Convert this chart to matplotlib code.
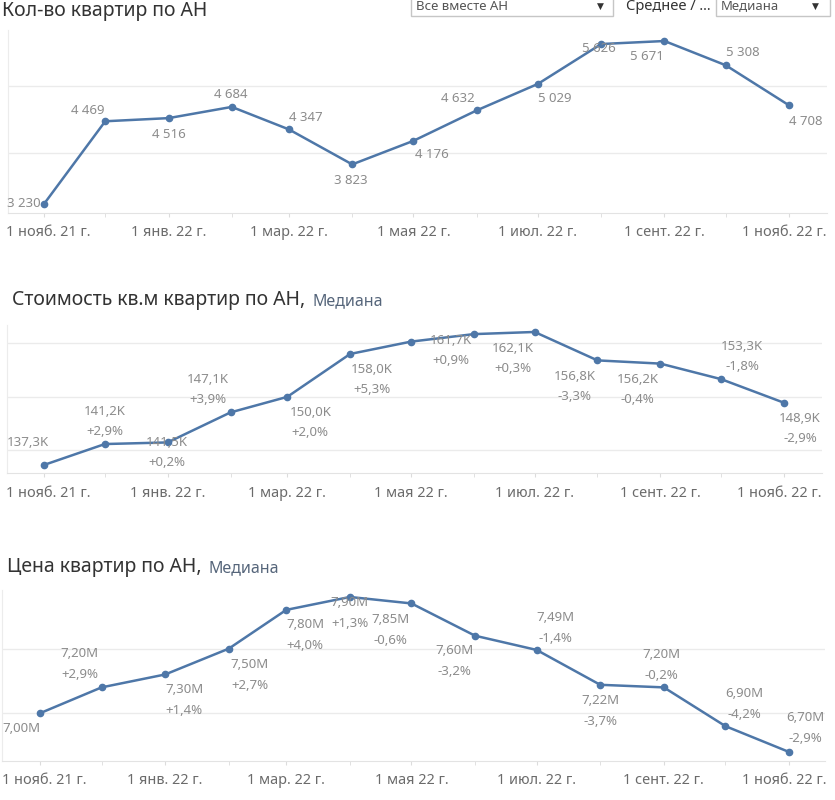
import matplotlib
matplotlib.use('Agg')

import matplotlib.pyplot as plt
import matplotlib.dates as mdates
from matplotlib.patches import Rectangle
from matplotlib.transforms import ScaledTranslation
from datetime import datetime

plt.rcParams['font.family'] = ['Noto Sans', 'DejaVu Sans']

# ==========================================
# DATA
# ==========================================
months = ['2021-11-01', '2021-12-01', '2022-01-01', '2022-02-01', '2022-03-01',
          '2022-04-01', '2022-05-01', '2022-06-01', '2022-07-01', '2022-08-01',
          '2022-09-01', '2022-10-01', '2022-11-01']
dates = [datetime.strptime(m, '%Y-%m-%d') for m in months]

kol_vo = [3230, 4469, 4516, 4684, 4347, 3823, 4176, 4632, 5029, 5626, 5671, 5308, 4708]

kvm_price = [137.3, 141.2, 141.5, 147.1, 150.0, 158.0, 160.3, 161.7, 162.1, 156.8, 156.2, 153.3, 148.9]
kvm_pct = [None, 2.9, 0.2, 3.9, 2.0, 5.3, 1.5, 0.9, 0.3, -3.3, -0.4, -1.8, -2.9]

flat_price = [7.00, 7.20, 7.30, 7.50, 7.80, 7.90, 7.85, 7.60, 7.49, 7.22, 7.20, 6.90, 6.70]
flat_pct = [None, 2.9, 1.4, 2.7, 4.0, 1.3, -0.6, -3.2, -1.4, -3.7, -0.2, -4.2, -2.9]

tick_months = ['2021-11-01', '2022-01-01', '2022-03-01', '2022-05-01',
               '2022-07-01', '2022-09-01', '2022-11-01']
tick_labels = ['1 нояб. 21 г.', '1 янв. 22 г.', '1 мар. 22 г.', '1 мая 22 г.',
               '1 июл. 22 г.', '1 сент. 22 г.', '1 нояб. 22 г.']

# ==========================================
# LAYOUT (pixels)
# ==========================================
W, H = 835, 800
LINE = '#4e77a8'
LABEL = '#8c8c8c'
GRID = '#ebebeb'

# label offsets in pixels (dx, dy up); None = hidden
off_top = [(-20, 0), (-17, 11), (0, -16), (-1, 12), (17, 12), (-1, -16), (18, -14),
           (-19, 12), (17, -15), (-2, -4), (-18, -15), (17, 13), (17, -16)]
off_mid = [(-16, 22), (0, 33), (-1, 0), (-23, 33), (23, -16), (22, -16), None,
           (-23, -6), (-22, -17), (-23, -16), (-23, -16), (21, 33), (16, -16)]
off_bot = [(-19, -15), (-22, 34), (19, -15), (21, -16), (19, -15), (0, -6), (-21, -16),
           (-21, -15), (19, 32), (0, -16), (-2, 33), (19, 33), (16, 34)]

fig = plt.figure(figsize=(W / 100, H / 100), dpi=100)


def px_axes(left, top, right, bottom, x_first, x_last):
    ax = fig.add_axes([left / W, 1 - bottom / H, (right - left) / W, (bottom - top) / H])
    d0 = mdates.date2num(dates[0])
    d1 = mdates.date2num(dates[-1])
    dpp = (d1 - d0) / (x_last - x_first)
    ax.set_xlim(d0 - (x_first - left) * dpp, d1 + (right - x_last) * dpp)
    return ax


def style(ax, grid_vals, ylim):
    ax.set_ylim(*ylim)
    ax.set_yticks(grid_vals)
    ax.set_yticklabels([])
    ax.tick_params(axis='y', length=0)
    ax.grid(axis='y', color=GRID, linewidth=1)
    ax.set_axisbelow(True)
    for s in ['top', 'right']:
        ax.spines[s].set_visible(False)
    ax.spines['left'].set_color('#ececec')
    ax.spines['bottom'].set_color('#e3e3e3')
    ax.set_xticks([mdates.date2num(datetime.strptime(m, '%Y-%m-%d')) for m in tick_months])
    ax.set_xticklabels(tick_labels)
    ax.set_xticks(mdates.date2num(dates), minor=True)
    ax.tick_params(axis='x', which='both', length=3, color='#dcdcdc', labelsize=10.4,
                   labelcolor='#6b6b6b', pad=6)
    # first / last label nudged inwards like the original
    labs = ax.get_xticklabels()
    for lab, dx in [(labs[0], 4), (labs[-1], -5)]:
        lab.set_transform(lab.get_transform() + ScaledTranslation(dx / 100, 0, fig.dpi_scale_trans))
    ax.patch.set_alpha(0)


def draw(ax, values):
    ax.plot(dates, values, color=LINE, linewidth=1.8, marker='o', markersize=4.5,
            zorder=3)


def label(ax, x, y, text, dx, dy):
    ax.annotate(text, (x, y), xytext=(dx, dy), textcoords='offset pixels',
                ha='center', va='center', fontsize=9.5, color=LABEL, zorder=4)


# ---------- panel 1: Кол-во квартир ----------
ax1 = px_axes(8, 30, 827, 213, 44, 789)
style(ax1, [4000, 5000], (3095, 5836))
draw(ax1, kol_vo)
for d, v, o in zip(dates, kol_vo, off_top):
    label(ax1, d, v, f"{v:,}".replace(',', ' '), *o)

# ---------- panel 2: Стоимость кв.м ----------
ax2 = px_axes(7, 325, 822, 473, 44, 784)
style(ax2, [140, 150, 160], (135.8, 163.4))
draw(ax2, kvm_price)
for d, v, p, o in zip(dates, kvm_price, kvm_pct, off_mid):
    if o is None:
        continue
    label(ax2, d, v, f"{v:.1f}K".replace('.', ','), *o)
    if p is not None:
        label(ax2, d, v, f"{p:+.1f}%".replace('.', ','), o[0], o[1] - 20)

# ---------- panel 3: Цена квартир ----------
ax3 = px_axes(2, 590, 825, 761, 40, 789)
style(ax3, [7.0, 7.5], (6.63, 7.954))
draw(ax3, flat_price)
for d, v, p, o in zip(dates, flat_price, flat_pct, off_bot):
    label(ax3, d, v, f"{v:.2f}M".replace('.', ','), *o)
    if p is not None:
        label(ax3, d, v, f"{p:+.1f}%".replace('.', ','), o[0], o[1] - 21)

# ==========================================
# TITLES AND HEADER
# ==========================================
def ftext(x, y, s, **kw):
    fig.text(x / W, 1 - y / H, s, va='center', **kw)


ftext(2, 11, 'Кол-во квартир по АН', fontsize=14, color='#333333')
ftext(12, 300, 'Стоимость кв.м квартир по АН,', fontsize=14, color='#333333')
ftext(312, 301, 'Медиана', fontsize=11.5, color='#55657a')
ftext(7, 567, 'Цена квартир по АН,', fontsize=14, color='#333333')
ftext(208, 568, 'Медиана', fontsize=11.5, color='#55657a')

# filter boxes
for x0, x1 in [(411, 613), (716, 830)]:
    fig.patches.append(Rectangle((x0 / W, 1 - 16 / H), (x1 - x0) / W, 30 / H,
                                 transform=fig.transFigure, facecolor='white',
                                 edgecolor='#c6c6c6', linewidth=1))
ftext(416, 6, 'Все вместе АН', fontsize=9.5, color='#555555')
ftext(597, 6, '▼', fontsize=6.5, color='#333333', family='DejaVu Sans')
ftext(626, 7, 'Среднее / ...', fontsize=10.5, color='#333333')
ftext(721, 6, 'Медиана', fontsize=9.5, color='#555555')
ftext(812, 6, '▼', fontsize=6.5, color='#333333', family='DejaVu Sans')

plt.savefig('out.png', dpi=100)
plt.close()
